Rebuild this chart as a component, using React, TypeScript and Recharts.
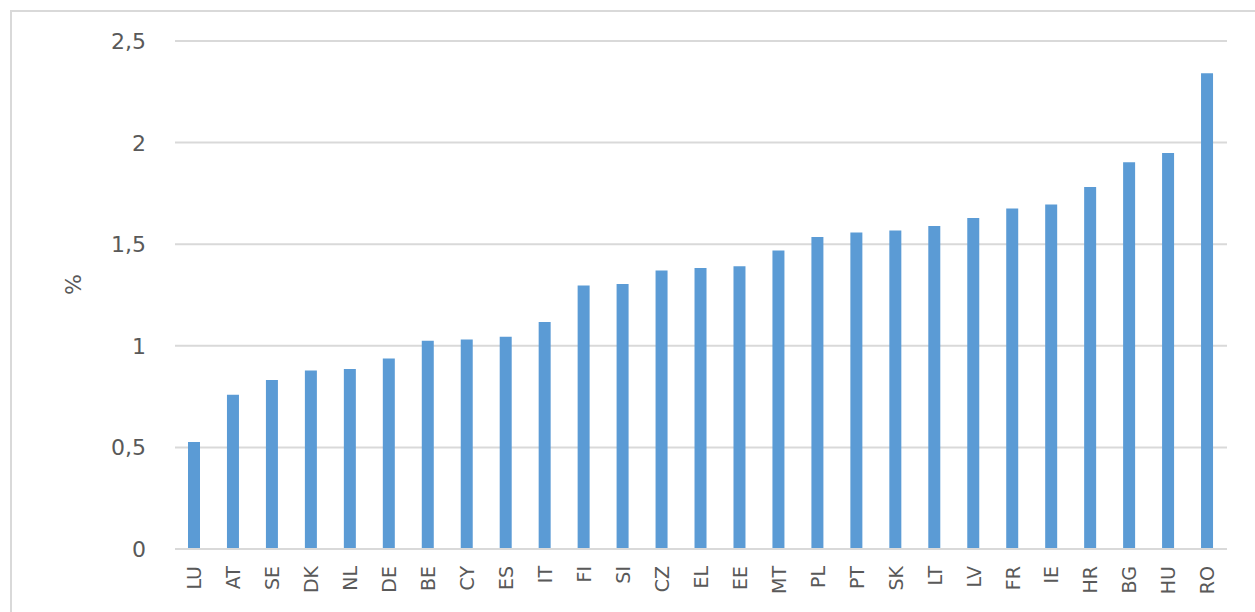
import React from "react";
import { BarChart, Bar, XAxis, YAxis, CartesianGrid, Label } from "recharts";

const categories = ["LU","AT","SE","DK","NL","DE","BE","CY","ES","IT","FI","SI","CZ","EL","EE","MT","PL","PT","SK","LT","LV","FR","IE","HR","BG","HU","RO"];
const values = [0.527,0.759,0.832,0.879,0.886,0.938,1.025,1.031,1.045,1.117,1.297,1.304,1.371,1.383,1.391,1.469,1.535,1.557,1.568,1.59,1.629,1.676,1.695,1.782,1.903,1.949,2.341];
const yTicks = [0, 0.5, 1, 1.5, 2, 2.5];

const data = categories.map((c, i) => ({ name: c, value: values[i] }));

const FONT = "'DejaVu Sans', sans-serif";
const TEXT = "#595959";

const fmt = (v: number) => String(v).replace(".", ",");

const XTick = (props: any) => {
  const { x, y, payload } = props;
  return (
    <text
      x={x}
      y={y + 17}
      transform={`rotate(-90, ${x}, ${y + 17})`}
      textAnchor="end"
      dy="0.36em"
      fill={TEXT}
      style={{ fontSize: 19, fontFamily: FONT }}
    >
      {payload.value}
    </text>
  );
};

const YTick = (props: any) => {
  const { x, y, payload } = props;
  return (
    <text
      x={x}
      y={y}
      textAnchor="end"
      dy="0.36em"
      fill={TEXT}
      style={{ fontSize: 22, fontFamily: FONT }}
    >
      {fmt(payload.value)}
    </text>
  );
};

export default function App() {
  return (
    <div style={{ position: "absolute", left: 0, top: 0, width: 1255, height: 612, background: "#fff", overflow: "hidden" }}>
      <div style={{ position: "absolute", left: 10, top: 10, width: 1300, height: 700, border: "2px solid #d9d9d9", boxSizing: "border-box" }} />
      <BarChart
        width={1255}
        height={612}
        data={data}
        margin={{ top: 41, right: 28, bottom: 0, left: 0 }}
        barCategoryGap={0}
        style={{ position: "absolute", left: 0, top: 0 }}
      >
        <CartesianGrid vertical={false} stroke="#d9d9d9" strokeWidth={2} />
        <XAxis
          dataKey="name"
          height={63}
          tick={<XTick />}
          tickLine={false}
          axisLine={{ stroke: "#d9d9d9", strokeWidth: 2 }}
          tickSize={0}
          tickMargin={0}
          interval={0}
        />
        <YAxis
          width={175}
          domain={[0, 2.5]}
          ticks={yTicks}
          axisLine={false}
          tickLine={false}
          tickSize={0}
          tickMargin={29}
          tick={<YTick />}
        >
          <Label
            value="%"
            angle={-90}
            position="insideLeft"
            offset={73}
            style={{ fill: TEXT, fontSize: 22, fontFamily: FONT }}
          />
        </YAxis>
        <Bar dataKey="value" fill="#5b9bd5" barSize={12} isAnimationActive={false} />
      </BarChart>
    </div>
  );
}
